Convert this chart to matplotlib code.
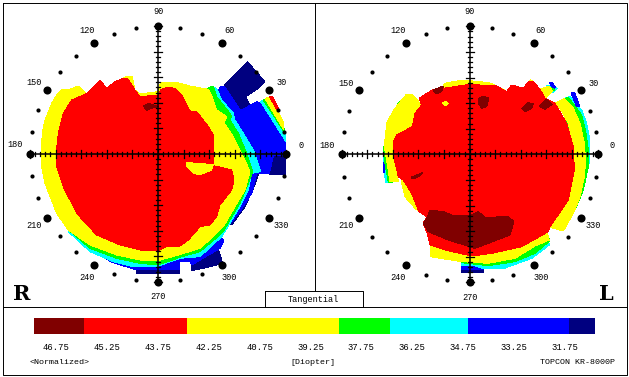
import numpy as np
import matplotlib
matplotlib.use('Agg')
import matplotlib.pyplot as plt

W, H = 629, 377

NAVY = '#000080'
BLUE = '#0000ff'
CYAN = '#00ffff'
GREEN = '#00ff00'
YELLOW = '#ffff00'
RED = '#ff0000'
DARK = '#800000'

# colour scale
scale_edges = [47.4, 45.92, 42.9, 38.4, 36.9, 34.6, 31.63, 30.86]
scale_colors = [DARK, RED, YELLOW, GREEN, CYAN, BLUE, NAVY]
scale_values = [46.75, 45.25, 43.75, 42.25, 40.75, 39.25, 37.75, 36.25, 34.75, 33.25, 31.75]

angle_labels = [0, 30, 60, 90, 120, 150, 180, 210, 240, 270, 300, 330]

# zones of the right eye map (x, y in crop units, 3 per pixel)
R_navy = [[(742,185),(795,245),(770,268),(745,285),(738,290),(750,318),(735,332),(722,330),(690,280),(672,258)],
          [(820,465),(858,462),(858,525),(808,525)],
          [(776,520),(766,552),(735,620),(695,675),(680,670),(730,600),(755,520)],
          [(573,795),(654,745),(668,790),(610,805),(573,812)],
          [(410,805),(540,800),(540,820),(410,820)]]
R_blue = [[(660,262),(672,258),(722,332),(770,305),(782,310),(858,425),(858,465),(820,468),(808,522),(770,522),(755,580),(720,635),(690,672),(672,680),(658,708),(672,722),(660,745),
           (575,795),(570,783),(540,785),(540,810),(410,810),(330,785),(300,760),(470,760)]]
R_cyan = [[(640,262),(650,265),(665,300),(700,340),(705,360),(730,400),(760,450),(782,515),(755,520),(745,570),(720,620),(690,670),(665,710),(600,770),(540,775),(470,800),(400,800),(340,785),(270,755),(205,695)],
          [(782,305),(795,298),(855,400),(858,425)]]
R_green = [[(628,262),(640,258),(650,290),(690,340),(695,350),(690,360),(715,400),(740,460),(758,515),(745,550),(720,610),(690,660),(670,695),(660,705),(600,755),(545,770),(474,795),(420,790),(350,775),(270,745),(200,685),(205,680)],
           [(790,300),(800,297),(852,385),(855,400)]]
R_yellow = [[(123,462),(127,400),(135,360),(155,310),(170,285),(185,270),(210,268),(235,258),(262,285),(300,240),(320,265),(345,245),(370,235),(382,228),(396,228),(405,270),(420,282),(474,275),(482,246),(526,246),(570,258),(625,268),(636,290),(650,330),(680,350),(672,368),(700,410),(730,470),(750,515),(735,570),(705,620),(670,680),(650,700),(600,745),(545,762),(474,782),(420,780),(350,765),(270,735),(205,690),(170,640),(135,550),(123,490)],
            [(795,296),(812,290),(850,365),(852,390)]]
R_red = [[(168,462),(175,400),(190,340),(215,300),(262,280),(300,240),(320,265),(345,245),(370,235),(382,235),(405,270),(420,290),(474,285),(482,270),(500,262),(526,265),(545,285),(565,325),(575,335),(590,335),(625,380),(640,405),(642,495),(645,498),(695,510),(702,540),(695,570),(660,615),(650,650),(630,675),(600,680),(565,720),(540,738),(500,740),(474,752),(420,750),(360,735),(290,705),(230,640),(190,560),(170,500)],
         [(807,288),(817,288),(835,325),(830,328)]]
R_spot = [[(558,488),(600,490),(640,495),(635,510),(600,524),(580,520),(560,500)]]
R_dark = [[(430,318),(445,310),(475,320),(452,325),(440,332)]]

# zones of the left eye map
L_navy = [[(438,808),(507,810),(507,818),(438,818)]]
L_blue = [[(438,798),(470,798),(507,810),(438,810)],
          [(768,278),(778,276),(795,320),(785,320)],
          [(702,248),(710,246),(722,262),(715,265)],
          [(204,485),(210,485),(210,518),(204,518)]]
L_cyan = [[(748,295),(765,290),(800,330),(815,370),(825,420),(825,480),(820,500),(805,545),(760,440)],
          [(703,735),(650,775),(568,805),(507,805),(438,795),(438,785),(600,760),(695,710)],
          [(695,258),(703,255),(728,265),(712,278)],
          [(204,455),(215,470),(230,548),(212,548),(206,500)]]
L_green = [[(748,297),(760,292),(800,345),(812,395),(820,450),(820,500),(805,570),(795,595),(775,640),(750,680),(745,692),(720,640),(760,440)],
           [(705,722),(660,760),(600,785),(520,797),(440,788),(600,760),(695,700)],
           [(692,262),(700,258),(720,270),(710,275)],
           [(204,440),(212,440),(222,480),(232,548),(220,548),(210,490)],
           [(235,340),(250,310),(275,288),(285,300),(240,330)],
           [(270,585),(280,590),(275,592)]]
L_yellow = [[(720,310),(748,295),(775,325),(795,370),(807,425),(812,480),(808,530),(795,590),(775,640),(745,693),(705,682),(760,600),(775,520),(775,440),(760,370),(735,325)],
            [(345,737),(345,770),(440,785),(520,790),(600,775),(660,738),(703,720),(695,695),(620,740),(530,760),(470,768),(390,750)],
            [(215,370),(228,345),(240,325),(275,282),(290,282),(320,315),(300,340),(292,380),(245,405),(235,430),(235,465),(250,545),(225,545),(215,480),(208,440)],
            [(258,540),(270,538),(290,580),(312,635),(300,625),(270,590)],
            [(385,265),(388,250),(445,240),(520,248),(540,255),(575,275),(560,265)],
            [(675,268),(702,258),(712,272),(692,295)],
            [(640,245),(646,239),(654,245)]]
L_red = [[(312,295),(355,268),(385,265),(470,252),(520,258),(540,255),(575,275),(590,255),(625,265),(640,245),(655,245),(675,268),(690,295),(720,310),(755,370),(775,440),(778,510),(760,600),(705,680),(700,695),(620,740),(530,760),(470,768),(390,750),(345,735),(337,700),(325,670),(335,650),(312,635),(290,580),(265,540),(250,530),(235,465),(235,425),(245,405),(292,380),(300,340),(320,315)]]
L_spot = [[(382,310),(392,303),(400,310),(392,318)]]
L_dark = [[(345,630),(385,635),(410,645),(470,645),(490,635),(510,652),(580,650),(597,665),(585,705),(520,730),(480,745),(400,720),(340,695),(325,670),(335,655)],
          [(355,270),(385,258),(380,275),(362,282)],
          [(490,295),(505,288),(522,295),(515,320),(500,325),(490,310)],
          [(620,325),(640,308),(655,312),(650,325),(630,335)],
          [(672,318),(695,297),(712,313),(690,328)],
          [(288,532),(305,525),(323,518),(310,530),(295,537)]]

R_zones = [(R_navy, NAVY), (R_blue, BLUE), (R_cyan, CYAN), (R_green, GREEN), (R_yellow, YELLOW), (R_red, RED), (R_spot, YELLOW), (R_dark, DARK)]
L_zones = [(L_navy, NAVY), (L_cyan, CYAN), (L_blue, BLUE), (L_green, GREEN), (L_yellow, YELLOW), (L_red, RED), (L_spot, YELLOW), (L_dark, DARK)]


def draw_map(rect, xlim, center, zones):
    ax = fig.add_axes([rect[0]/W, 1-(rect[1]+rect[3])/H, rect[2]/W, rect[3]/H])
    ax.set_xlim(*xlim)
    ax.set_ylim(915, 0)
    ax.axis('off')
    ax.patch.set_alpha(0)
    for polys, col in zones:
        for p in polys:
            xy = np.array(p)
            ax.fill(xy[:,0], xy[:,1], color=col, lw=0, antialiased=False)

    cx, cy = center
    radius = 384
    step = radius/25
    ax.plot([cx-radius, cx+radius], [cy, cy], 'k', lw=1.1)
    ax.plot([cx, cx], [cy-radius, cy+radius], 'k', lw=1.1)
    for i in range(-25, 26):
        half = 12 if i % 5 == 0 else 6
        ax.plot([cx+i*step]*2, [cy-half, cy+half], 'k', lw=0.9)
        ax.plot([cx-half, cx+half], [cy+i*step]*2, 'k', lw=0.9)

    a = np.radians(np.arange(0, 360, 10))
    ax.scatter(cx+radius*np.cos(a), cy-radius*np.sin(a), s=9, c='k', lw=0, zorder=5)
    a = np.radians(angle_labels)
    ax.scatter(cx+radius*np.cos(a), cy-radius*np.sin(a), s=34, c='k', lw=0, zorder=5)

    for lab in angle_labels:
        t = np.radians(lab)
        dy = -27 if lab in (0, 180) else 0
        ax.text(cx+428*np.cos(t), cy-428*np.sin(t)+dy, str(lab), ha='center', va='center',
                fontsize=6.2, family='Liberation Mono', color='k')


fig = plt.figure(figsize=(W/100, H/100), dpi=100, facecolor='white')

# frame, labels
base = fig.add_axes([0, 0, 1, 1])
base.set_xlim(0, W)
base.set_ylim(H, 0)
base.axis('off')
base.plot([2.5, 626.5, 626.5, 2.5, 2.5], [2.5, 2.5, 374.5, 374.5, 2.5], 'k', lw=0.7)
base.plot([2.5, 626.5], [306.5, 306.5], 'k', lw=0.7)
base.plot([314.5, 314.5], [2.5, 290.5], 'k', lw=0.7)
base.plot([264.5, 362.5, 362.5, 264.5, 264.5], [290.5, 290.5, 306.5, 306.5, 290.5], 'k', lw=0.7)
base.text(313.5, 300, 'Tangential', ha='center', va='center', fontsize=6.2, family='Liberation Mono')
base.text(22, 294, 'R', ha='center', va='center', fontsize=15, family='DejaVu Serif', weight='bold')
base.text(606, 294, 'L', ha='center', va='center', fontsize=15, family='DejaVu Serif', weight='bold')
base.text(59, 363, '<Normalized>', ha='center', va='center', fontsize=6, family='Liberation Mono')
base.text(313, 363, '[Diopter]', ha='center', va='center', fontsize=6, family='Liberation Mono')
base.text(577, 363, 'TOPCON KR-8000P', ha='center', va='center', fontsize=6, family='Liberation Mono')

draw_map((0, 0, 315, 305), (0, 945), (474, 462), R_zones)
draw_map((315, 0, 314, 305), (0, 942), (464, 463), L_zones)

# colour scale
cb = fig.add_axes([34/W, 1-334/H, 561/W, 16/H])
edges = np.array(scale_edges)
cb.barh(0, edges[1:]-edges[:-1], left=edges[:-1], height=1, color=scale_colors, antialiased=False)
cb.set_xlim(scale_edges[0], scale_edges[-1])
cb.set_ylim(-0.5, 0.5)
cb.axis('off')
for v in scale_values:
    cb.annotate('%.2f' % v, (v, 0), xycoords=('data', 'axes fraction'), xytext=(0, -9.4), textcoords='offset points',
                ha='center', va='center', fontsize=6.4, family='Liberation Mono', annotation_clip=False)

fig.savefig('out.png', dpi=100, facecolor='white')
